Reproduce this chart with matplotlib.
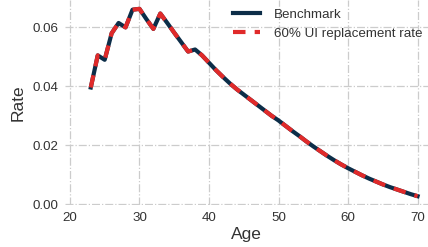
import matplotlib.pyplot as plt

plt.rcParams['font.family'] = ['Liberation Sans', 'DejaVu Sans']

# Age profile of the rate
ages = list(range(23, 71))
benchmark = [0.0396, 0.0505, 0.0490, 0.0580, 0.0615, 0.0600, 0.0660, 0.0663,
             0.0628, 0.0595, 0.0647, 0.0615, 0.0582, 0.0550, 0.0518, 0.0525,
             0.0505, 0.0480, 0.0455, 0.0432, 0.0410, 0.0390, 0.0372, 0.0354,
             0.0336, 0.0318, 0.0300, 0.0284, 0.0266, 0.0248, 0.0231, 0.0213,
             0.0196, 0.0180, 0.0164, 0.0149, 0.0135, 0.0122, 0.0110, 0.0098,
             0.0087, 0.0077, 0.0067, 0.0058, 0.0050, 0.0042, 0.0034, 0.0027]
ui60 = list(benchmark)

fig = plt.figure(figsize=(4.28, 2.47), dpi=100)
ax = fig.add_axes([0.152, 0.170, 0.848, 0.830])

ax.plot(ages, benchmark, color='#0c2d48', lw=3, label='Benchmark')
ax.plot(ages, ui60, color='#e02a2a', lw=3, ls=(0, (3, 2.2)),
        label='60% UI replacement rate')

ax.set_xlim(19.3, 71.5)
ax.set_ylim(-0.0003, 0.0693)
ax.set_xticks([20, 30, 40, 50, 60, 70])
ax.set_yticks([0.0, 0.02, 0.04, 0.06])
ax.set_yticklabels(['0.00', '0.02', '0.04', '0.06'])

ax.grid(True, color='#cccccc', ls='-.', lw=0.9)
ax.set_axisbelow(True)
for s in ax.spines.values():
    s.set_visible(False)
ax.tick_params(length=0, labelsize=9.6, colors='#333333', pad=5)

ax.set_xlabel('Age', fontsize=12.5, color='#333333', labelpad=2)
ax.set_ylabel('Rate', fontsize=12.5, color='#333333', labelpad=5)

ax.legend(loc='upper right', bbox_to_anchor=(1.0, 0.985), frameon=False,
          fontsize=9.6, handlelength=2.0, labelcolor='#333333',
          borderaxespad=0.0, labelspacing=0.5, handletextpad=1.1)

fig.savefig('out.png', dpi=100)
